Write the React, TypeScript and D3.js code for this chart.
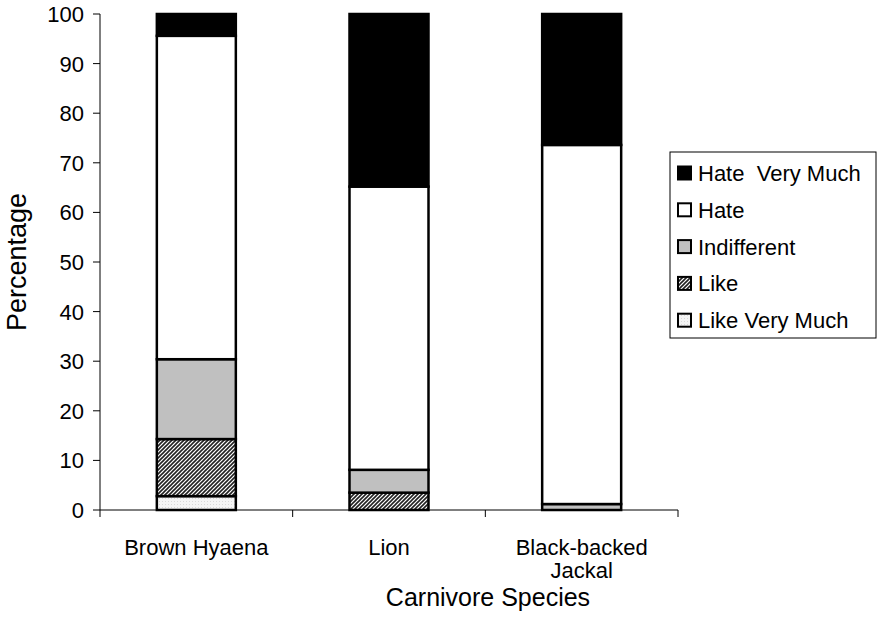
import React from "react";
import * as d3 from "d3";

const categories = ["Brown Hyaena", "Lion", "Black-backed Jackal"];
const categoryLines = [["Brown Hyaena"], ["Lion"], ["Black-backed", "Jackal"]];
const seriesNames = ["Like Very Much", "Like", "Indifferent", "Hate", "Hate  Very Much"];
const likeVeryMuch = [2.8, 0, 0];
const like = [11.5, 3.5, 0];
const indifferent = [16.1, 4.6, 1.2];
const hate = [65.2, 57.1, 72.4];
const hateVeryMuch = [4.4, 34.8, 26.4];
const yTicks = [0, 10, 20, 30, 40, 50, 60, 70, 80, 90, 100];
const legendOrder = ["Hate  Very Much", "Hate", "Indifferent", "Like", "Like Very Much"];

const fills: Record<string, string> = {
  "Like Very Much": "url(#lightDots)",
  "Like": "url(#hatch)",
  "Indifferent": "#c0c0c0",
  "Hate": "#ffffff",
  "Hate  Very Much": "#000000",
};

export default function App() {
  const W = 878, H = 638;
  const x0 = 100, x1 = 678, yTop = 14, yBot = 510;
  const x = d3.scaleBand<string>().domain(categories).range([x0, x1]).paddingInner(0.59).paddingOuter(0.295);
  const y = d3.scaleLinear().domain([0, 100]).range([yBot, yTop]);
  const rows = categories.map((c, i) => ({
    cat: c,
    "Like Very Much": likeVeryMuch[i],
    "Like": like[i],
    "Indifferent": indifferent[i],
    "Hate": hate[i],
    "Hate  Very Much": hateVeryMuch[i],
  }));
  const stacked = d3.stack<any>().keys(seriesNames)(rows);
  const step = x.step();
  const boundaries = d3.range(categories.length + 1).map((i) => x0 + i * step);
  const font = "'Liberation Sans', Arial, sans-serif";

  return (
    <svg width={W} height={H} style={{ position: "absolute", left: 0, top: 0, background: "#fff" }} fontFamily={font}>
      <defs>
        <pattern id="hatch" patternUnits="userSpaceOnUse" width="4" height="4">
          <rect width="4" height="4" fill="#ffffff" />
          <path d="M-1,1 l2,-2 M0,4 l4,-4 M3,5 l2,-2" stroke="#222" strokeWidth="1.6" />
        </pattern>
        <pattern id="lightDots" patternUnits="userSpaceOnUse" width="3" height="3">
          <rect width="3" height="3" fill="#f4f4f4" />
          <rect x="0" y="0" width="1" height="1" fill="#d8d8d8" />
        </pattern>
      </defs>

      {/* bars */}
      {stacked.map((s) =>
        s.map((d, i) => {
          const h = y(d[0]) - y(d[1]);
          if (h <= 0.01) return null;
          return (
            <rect
              key={s.key + i}
              x={x(categories[i])}
              y={y(d[1])}
              width={x.bandwidth()}
              height={h}
              fill={fills[s.key]}
              stroke="#000"
              strokeWidth={2.5}
            />
          );
        })
      )}

      {/* y axis */}
      <line x1={x0} x2={x0} y1={yTop} y2={yBot} stroke="#000" strokeWidth={1} />
      {yTicks.map((t) => (
        <g key={t}>
          <line x1={x0 - 7} x2={x0} y1={y(t)} y2={y(t)} stroke="#000" />
          <text x={x0 - 16} y={y(t)} dy="0.36em" textAnchor="end" fontSize={22} fill="#000">
            {t}
          </text>
        </g>
      ))}

      {/* x axis */}
      <line x1={x0} x2={x1} y1={yBot} y2={yBot} stroke="#000" />
      {boundaries.map((b, i) => (
        <line key={i} x1={b} x2={b} y1={yBot} y2={yBot + 7} stroke="#000" />
      ))}
      {categoryLines.map((lines, i) => (
        <text key={i} x={(x(categories[i]) as number) + x.bandwidth() / 2} y={555} textAnchor="middle" fontSize={22} fill="#000">
          {lines.map((l, j) => (
            <tspan key={j} x={(x(categories[i]) as number) + x.bandwidth() / 2} dy={j === 0 ? 0 : 23}>
              {l}
            </tspan>
          ))}
        </text>
      ))}

      {/* axis titles */}
      <text x={488} y={606} textAnchor="middle" fontSize={25} fill="#000">Carnivore Species</text>
      <text transform="translate(26,262) rotate(-90)" textAnchor="middle" fontSize={27} fill="#000">Percentage</text>

      {/* legend */}
      <rect x={670} y={152} width={206} height={186} fill="#fff" stroke="#000" strokeWidth={1} />
      {legendOrder.map((k, i) => {
        const cy = 173 + i * 36.8;
        return (
          <g key={k}>
            <rect x={678} y={cy - 6.5} width={13} height={13} fill={fills[k]} stroke="#000" strokeWidth={2} />
            <text x={698} y={cy} dy="0.36em" fontSize={22} fill="#000" style={{ whiteSpace: "pre" }}>{k}</text>
          </g>
        );
      })}
    </svg>
  );
}
